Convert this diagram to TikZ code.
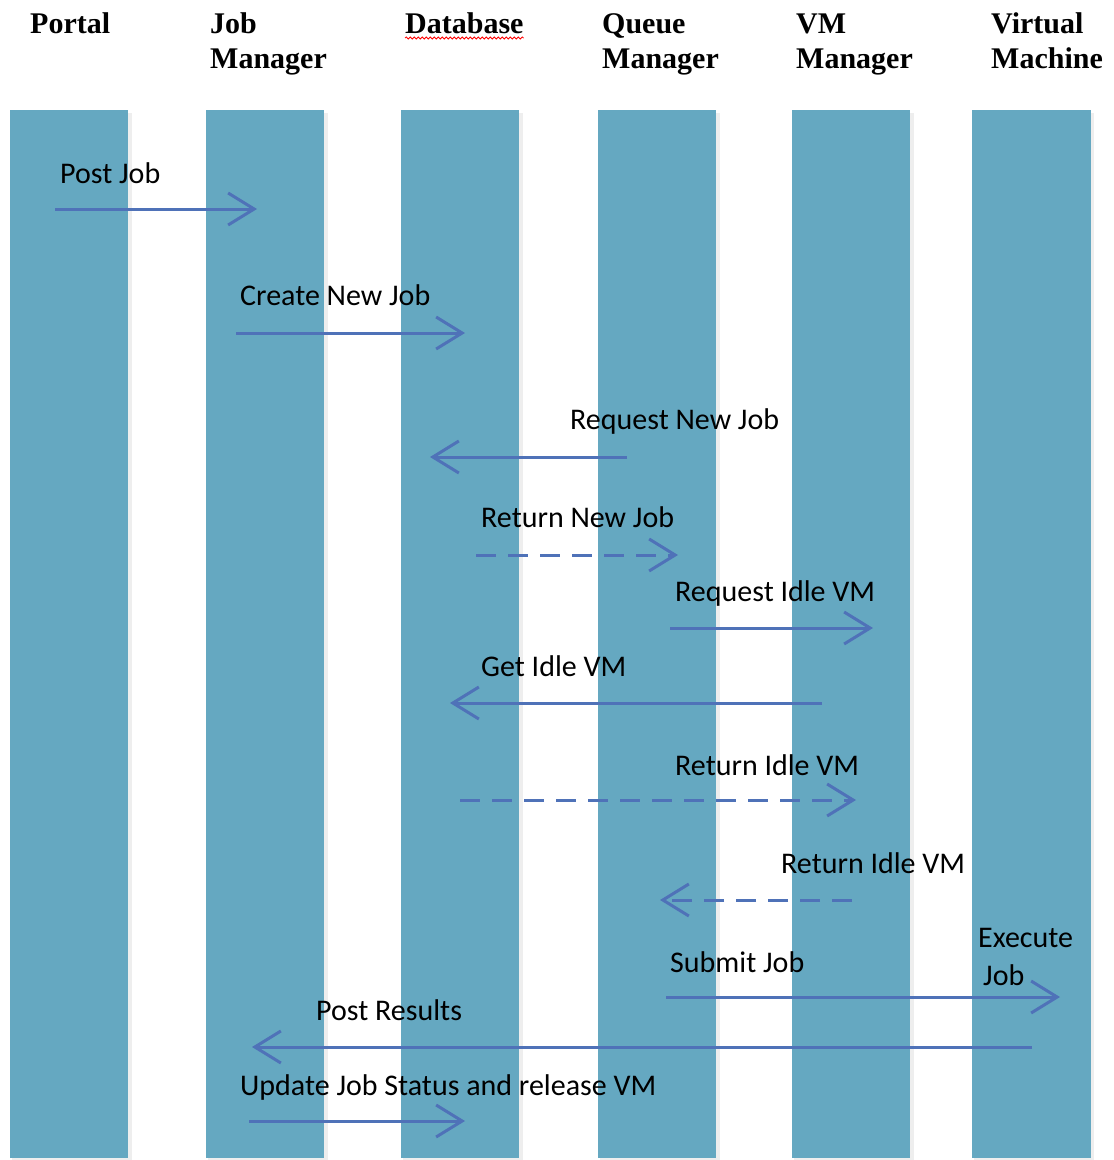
\documentclass[tikz,border=0pt]{standalone}
\usepackage{fontspec}
\setmainfont{Carlito}
\newfontfamily\headfont{Liberation Serif}
\usetikzlibrary{arrows.meta,decorations.pathmorphing}
\definecolor{barblue}{RGB}{101,168,193}
\definecolor{arrblue}{RGB}{79,114,184}
\definecolor{shadowgray}{RGB}{90,90,90}
\begin{document}
\begin{tikzpicture}[x=1pt,y=-1pt,
  lane/.style={fill=barblue,draw=none,minimum width=118pt,minimum height=1048pt,inner sep=0pt,anchor=north west},
  head/.style={font=\headfont\bfseries\fontsize{30}{35}\selectfont,align=left,anchor=base west,inner sep=0pt},
  lbl/.style={font=\fontsize{30}{36}\selectfont,anchor=base west,inner sep=0pt,text=black},
  msg/.style={draw=arrblue,line width=3pt,-{Straight Barb[length=26pt,width=32pt,line width=3pt]}},
  dmsg/.style={msg,dash pattern=on 20pt off 12pt}]
\useasboundingbox (0,0) rectangle (1114,1160);
\fill[white] (0,0) rectangle (1114,1160);
% shadows of lanes
\foreach \x in {10,206,401,598,792,972}{
  \fill[shadowgray,opacity=0.10] (\x+2,113) rectangle (\x+122,1160);
}
% lanes
\node[lane] (portal) at (10,110) {};
\node[lane] (jobm) at (206,110) {};
\node[lane] (db) at (401,110) {};
\node[lane] (queue) at (598,110) {};
\node[lane] (vmm) at (792,110) {};
\node[lane,minimum width=119pt] (vm) at (972,110) {};
% headers
\node[head] (hportal) at (30,33) {Portal};
\node[head] (hjob) at (210,68) {Job\\Manager};
\node[head] (hdb) at (405,33) {Database};
\node[head] (hqueue) at (602,68) {Queue\\Manager};
\node[head] (hvmm) at (796,68) {VM\\Manager};
\node[head] (hvm) at (991,68) {Virtual\\Machine};
\draw[red,line width=0.8pt,decorate,decoration={snake,amplitude=1pt,segment length=4pt}] ([yshift=-5pt]hdb.base west) -- ([yshift=-5pt]hdb.base east);
% message endpoints
\coordinate (a1) at (55,209);   \coordinate (b1) at (257,209);
\coordinate (a2) at (236,333);  \coordinate (b2) at (465,333);
\coordinate (a3) at (627,457);  \coordinate (b3) at (430,457);
\coordinate (a4) at (476,555);  \coordinate (b4) at (678,555);
\coordinate (a5) at (670,628);  \coordinate (b5) at (873,628);
\coordinate (a6) at (822,703);  \coordinate (b6) at (450,703);
\coordinate (a7) at (460,800);  \coordinate (b7) at (856,800);
\coordinate (a8) at (852,900);  \coordinate (b8) at (660,900);
\coordinate (a9) at (666,997);  \coordinate (b9) at (1060,997);
\coordinate (a10) at (1032,1047); \coordinate (b10) at (252,1047);
\coordinate (a11) at (249,1121); \coordinate (b11) at (465,1121);
% messages
\draw[msg] (a1) -- (b1);
\draw[msg] (a2) -- (b2);
\draw[msg] (a3) -- (b3);
\draw[dmsg] (a4) -- (b4);
\draw[msg] (a5) -- (b5);
\draw[msg] (a6) -- (b6);
\draw[dmsg] (a7) -- (b7);
\draw[dmsg] (a8) -- (b8);
\draw[msg] (a9) -- (b9);
\draw[msg] (a10) -- (b10);
\draw[msg] (a11) -- (b11);
% labels
\node[lbl] (l1) at (60,183) {Post Job};
\node[lbl] (l2) at (240,305) {Create New Job};
\node[lbl] (l3) at (570,429) {Request New Job};
\node[lbl] (l4) at (481,527) {Return New Job};
\node[lbl] (l5) at (675,601) {Request Idle VM};
\node[lbl] (l6) at (481,676) {Get Idle VM};
\node[lbl] (l7) at (675,775) {Return Idle VM};
\node[lbl] (l8) at (781,873) {Return Idle VM};
\node[lbl] (l9) at (670,972) {Submit Job};
\node[lbl] (l9a) at (978,947) {Execute};
\node[lbl] (l9b) at (983,985) {Job};
\node[lbl] (l10) at (316,1020) {Post Results};
\node[lbl] (l11) at (240,1095) {Update Job Status and release VM};
\end{tikzpicture}
\end{document}
